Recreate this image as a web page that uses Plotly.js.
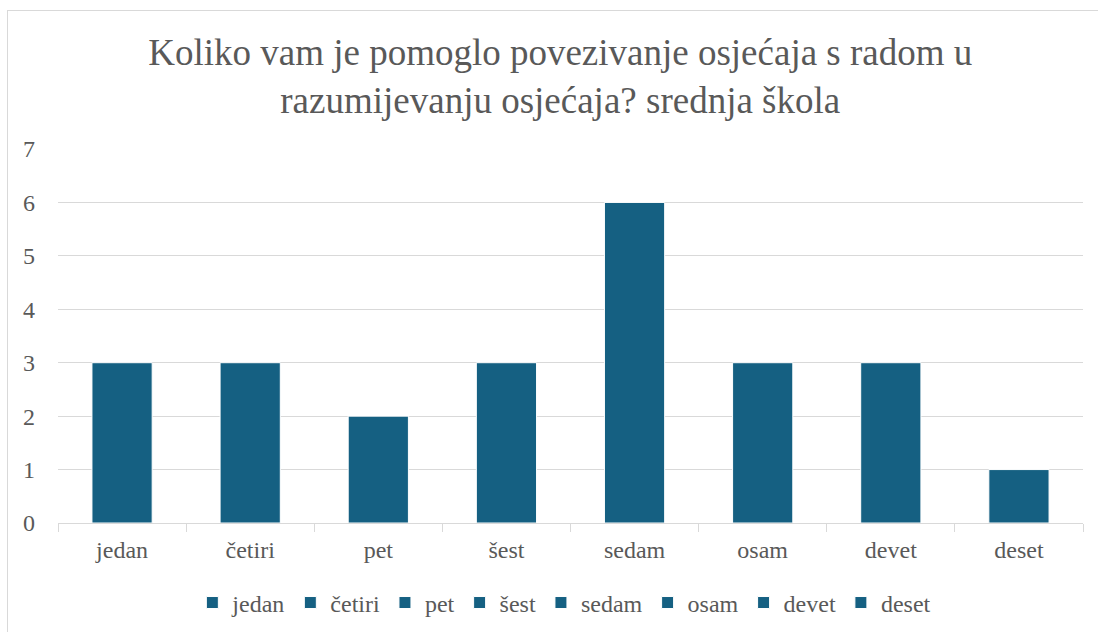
<!DOCTYPE html>
<html>
<head>
<meta charset="utf-8">
<script src="https://cdn.plot.ly/plotly-3.0.1.min.js"></script>
<style>
html,body{margin:0;padding:0;background:#fff;overflow:hidden;}
#chart{position:absolute;left:0;top:0;width:1098px;height:632px;}
#frame{position:absolute;left:7px;top:10px;width:1200px;height:700px;border:1px solid #d9d9d9;pointer-events:none;}
</style>
</head>
<body>
<div id="chart"></div>
<div id="frame"></div>
<script>
const categories = ["jedan", "četiri", "pet", "šest", "sedam", "osam", "devet", "deset"];
const values = [3, 3, 2, 3, 6, 3, 3, 1];
const barColor = "#156082";
const titleText = "Koliko vam je pomoglo povezivanje osjećaja s radom u<br>razumijevanju osjećaja? srednja škola";

const traces = categories.map((c, i) => ({
  type: "bar",
  name: c,
  x: [c],
  y: [values[i]],
  marker: {color: barColor, line: {color: "#ffffff", width: 1}},
  hoverinfo: "x+y"
}));

const font = "Liberation Serif";
const layout = {
  width: 1098,
  height: 632,
  margin: {l: 58, r: 15, t: 149, b: 109},
  paper_bgcolor: "rgba(0,0,0,0)",
  plot_bgcolor: "#ffffff",
  barmode: "overlay",
  bargap: 0.53,
  font: {family: font, color: "#595959"},
  title: {
    text: titleText,
    font: {family: font, size: 37, color: "#595959"},
    x: 0.49, xanchor: "center", xref: "paper",
    y: 0.897, yanchor: "middle", yref: "container"
  },
  xaxis: {
    categoryorder: "array",
    categoryarray: categories,
    showline: true, linecolor: "#d9d9d9", linewidth: 1,
    ticks: "outside", tickson: "boundaries", ticklen: 8, tickcolor: "#d9d9d9",
    showgrid: false,
    ticklabelstandoff: 5,
    tickfont: {family: font, size: 24, color: "#595959"},
    zeroline: false
  },
  yaxis: {
    range: [0, 7],
    dtick: 1,
    showgrid: true, gridcolor: "#d9d9d9", gridwidth: 1,
    zeroline: false,
    showline: false,
    ticks: "",
    ticklabelstandoff: 22,
    tickfont: {family: font, size: 24, color: "#595959"}
  },
  showlegend: true,
  legend: {
    orientation: "h",
    x: 0.494, xanchor: "center",
    y: 0.046, yanchor: "middle", yref: "container",
    font: {family: font, size: 24, color: "#595959"},
    itemwidth: 30,
    traceorder: "normal"
  }
};

Plotly.newPlot("chart", traces, layout, {displayModeBar: false, staticPlot: true});
</script>
</body>
</html>
